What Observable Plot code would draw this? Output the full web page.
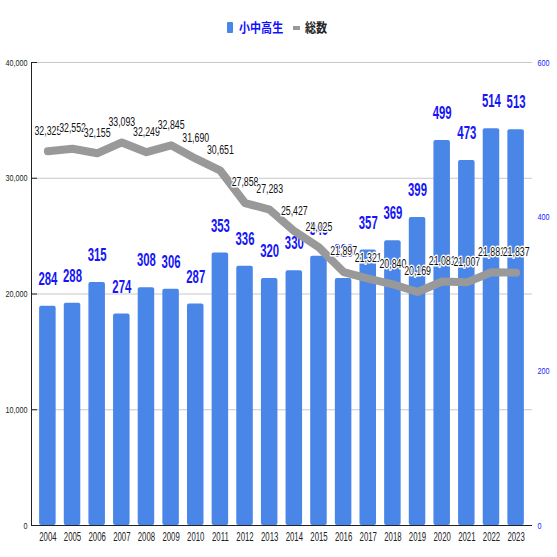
<!DOCTYPE html>
<html><head><meta charset="utf-8">
<script src="https://cdn.jsdelivr.net/npm/d3@7"></script>
<script src="https://cdn.jsdelivr.net/npm/@observablehq/plot@0.6"></script>
<style>
body{margin:0;background:#fff;font-family:"Liberation Sans",Arial,sans-serif;}
#legend{position:relative;width:557px;height:44px;font-family:"Noto Sans CJK JP",sans-serif;font-weight:bold;font-size:13px;}
#legend span{position:absolute;}
.sq{transform:scaleX(0.85);transform-origin:left center;line-height:16px;}
</style></head><body>
<div id="legend">
  <span style="left:227px;top:22px;width:6px;height:11px;background:#4a86e8;border-radius:1px"></span>
  <span class="sq" style="left:239px;top:19px;color:#1010ff">小中高生</span>
  <span style="left:293px;top:26px;width:7px;height:4px;background:#999"></span>
  <span class="sq" style="left:305px;top:19px;color:#222">総数</span>
</div>
<div id="chart"></div>
<script>
const years = [2004,2005,2006,2007,2008,2009,2010,2011,2012,2013,2014,2015,2016,2017,2018,2019,2020,2021,2022,2023];
const students = [284,288,315,274,308,306,287,353,336,320,330,349,320,357,369,399,499,473,514,513];
const totals = [32325,32552,32155,33093,32249,32845,31690,30651,27858,27283,25427,24025,21897,21321,20840,20169,21081,21007,21881,21837];
const leftTicks = [0,10000,20000,30000,40000];
const rightTicks = [0,200,400,600];
const leftMax = 40000, rightMax = 600, k = leftMax / rightMax;

const data = years.map((y, i) => ({year: String(y), s: students[i], t: totals[i]}));
const fmt = d3.format(",");
const font = '"Liberation Sans",Arial,sans-serif';

const chart = Plot.plot({
  width: 557, height: 513,
  marginTop: 18, marginBottom: 32, marginLeft: 31, marginRight: 25,
  style: {fontFamily: font, background: "transparent"},
  x: {type: "band", domain: years.map(String), padding: 0.33, round: false, label: null},
  y: {domain: [0, leftMax], label: null},
  marks: [
    Plot.gridY(leftTicks.slice(1), {stroke: "#c8c8c8", strokeOpacity: 1}),
    Plot.barY(data, {x: "year", y: d => d.s * k, fill: "#4a86e8", rx: 2}),
    Plot.text(data, {x: "year", y: d => d.s * k, text: d => String(d.s), dy: -27, fill: "#1515f5", fontWeight: "bold", fontSize: 17.5}),
    Plot.line(data, {x: "year", y: "t", stroke: "#999", strokeWidth: 8}),
    Plot.text(data, {x: "year", y: "t", text: d => fmt(d.t), dy: -21, fontSize: 13.5, fill: "#111", stroke: "white", strokeWidth: 3}),
    Plot.axisY(leftTicks, {anchor: "left", tickFormat: fmt, tickSize: 0, tickPadding: 4, fontSize: 9.5, color: "#222"}),
    Plot.axisY(leftTicks, {anchor: "left", text: null, tickSize: 6, dx: 6, stroke: "#222"}),
    Plot.axisY(rightTicks.map(v => v * k), {anchor: "right", tickFormat: d => String(Math.round(d / k)), tickSize: 0, tickPadding: 5, fontSize: 9.5, color: "#2020ff"}),
    Plot.axisX({tickSize: 0, tickPadding: 7, fontSize: 12, color: "#222"}),
    Plot.ruleY([0], {stroke: "#222"}),
    Plot.frame({anchor: "left", stroke: "#222"})
  ]
});
// condense text horizontally (the reference uses a narrow face)
chart.querySelectorAll("text").forEach(t => {
  const g = t.closest("g[aria-label]");
  const lab = g ? g.getAttribute("aria-label") : "";
  const s = lab.includes("y-axis") ? 0.76 : 0.65;
  const tr = t.getAttribute("transform") || "";
  t.setAttribute("transform", `${tr} scale(${s},1)`);
});
document.getElementById("chart").append(chart);
</script>
</body></html>
